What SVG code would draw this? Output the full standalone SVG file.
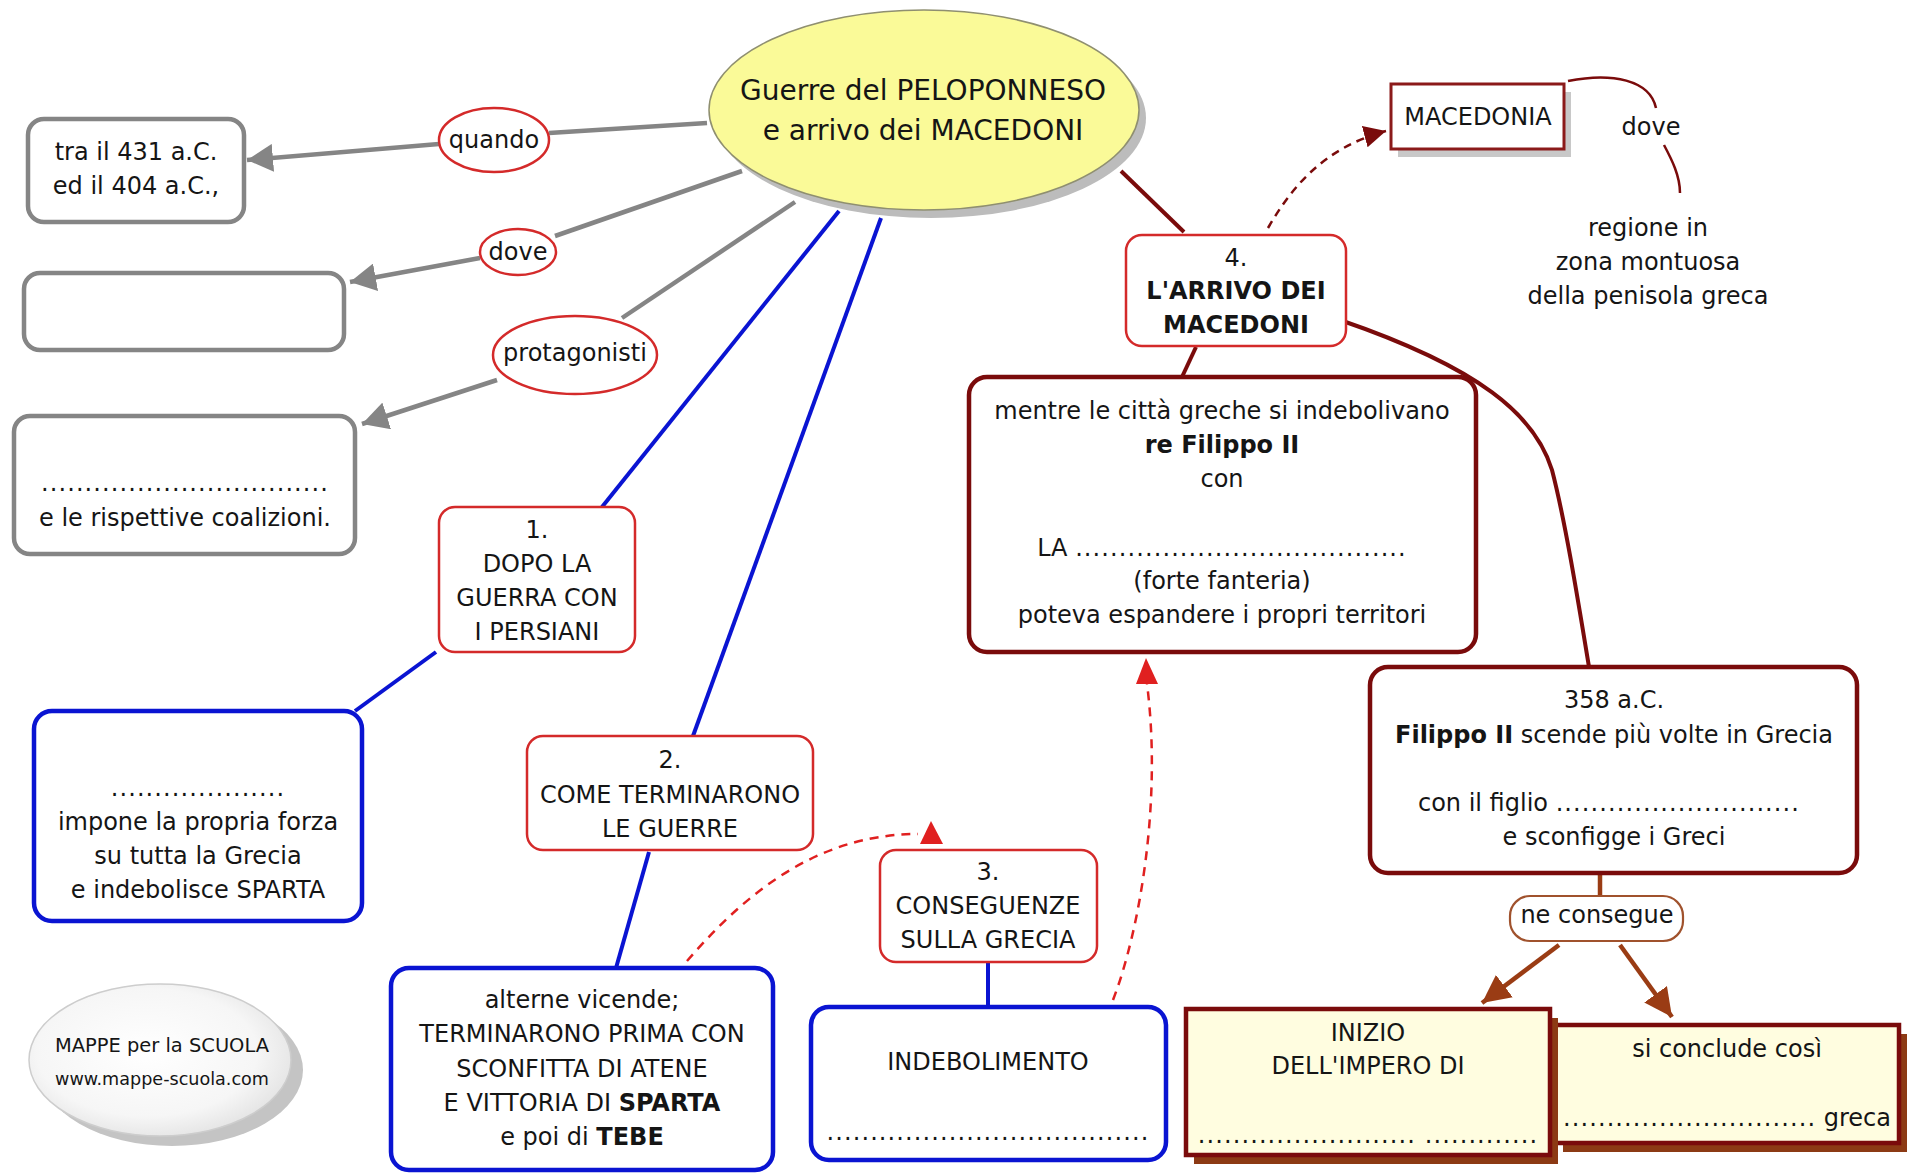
<svg xmlns="http://www.w3.org/2000/svg" width="1917" height="1173" viewBox="0 0 1917 1173">
<style>
text{font-family:"DejaVu Sans",Verdana,sans-serif;font-size:24px;fill:#151515;text-anchor:middle}
.b{font-weight:bold}
.d{letter-spacing:1.1px}
.grey{fill:#fff;stroke:#858585;stroke-width:4.5}
.red{fill:#fff;stroke:#d42a2a;stroke-width:2.5}
.blue{fill:#fff;stroke:#0a14d2;stroke-width:4.5}
.dred{fill:#fff;stroke:#7a0b0b;stroke-width:4.5}
.yel{fill:#fffde0;stroke:#7a0b0b;stroke-width:4.5}
.bsh{fill:#8c3a14}
.gl{stroke:#858585;stroke-width:4.5;fill:none}
.bl{stroke:#0a14d2;stroke-width:4;fill:none}
.rl{stroke:#7a0b0b;stroke-width:4;fill:none}
.br{stroke:#9a3c14;stroke-width:4.5;fill:none}
.dash{stroke:#e02020;stroke-width:2.5;fill:none;stroke-dasharray:9 7}
</style>
<defs>
<marker id="ag" viewBox="0 0 10 10" refX="10" refY="5" markerWidth="26" markerHeight="28" markerUnits="userSpaceOnUse" orient="auto" preserveAspectRatio="none"><path d="M0,0 L10,5 L0,10 z" fill="#858585"/></marker>
<marker id="ab" viewBox="0 0 10 10" refX="10" refY="5" markerWidth="28" markerHeight="28" markerUnits="userSpaceOnUse" orient="auto" preserveAspectRatio="none"><path d="M0,0 L10,5 L0,10 z" fill="#9a3c14"/></marker>
<marker id="ar" viewBox="0 0 10 10" refX="10" refY="5" markerWidth="22" markerHeight="22" markerUnits="userSpaceOnUse" orient="auto" preserveAspectRatio="none"><path d="M0,0 L10,5 L0,10 z" fill="#7a0b0b"/></marker>
<radialGradient id="lg" cx="0.45" cy="0.45" r="0.6"><stop offset="0" stop-color="#ffffff"/><stop offset="0.7" stop-color="#f6f6f6"/><stop offset="1" stop-color="#e2e2e2"/></radialGradient>
</defs>
<rect width="1917" height="1173" fill="#fff"/>

<g id="connectors">
<path class="gl" d="M707,123 L549,133"/>
<path class="gl" d="M439,144 L247,160" marker-end="url(#ag)"/>
<path class="gl" d="M742,171 L555,236"/>
<path class="gl" d="M480,258 L350,282" marker-end="url(#ag)"/>
<path class="gl" d="M795,202 L622,318"/>
<path class="gl" d="M497,380 L362,424" marker-end="url(#ag)"/>
<path class="bl" d="M839,211 L602,507"/>
<path class="bl" d="M881,218 L693,736"/>
<path class="bl" d="M436,652 L355,711"/>
<path class="bl" d="M649,852 L616,968"/>
<path class="bl" d="M988,963 L988,1008"/>
<path class="rl" d="M1121,171 L1184,232"/>
<path class="rl" d="M1196,347 L1182,377"/>
<path class="rl" d="M1340,320 C1480,368 1535,415 1552,470 C1565,520 1578,600 1589,667"/>
<path class="br" d="M1600,873 L1600,896"/>
<path class="br" d="M1559,945 L1482,1003" marker-end="url(#ab)"/>
<path class="br" d="M1620,945 L1672,1017" marker-end="url(#ab)"/>
<path d="M1268,228 C1290,190 1322,148 1386,131" stroke="#7a0b0b" stroke-width="2.5" fill="none" stroke-dasharray="8 6" marker-end="url(#ar)"/>
<path d="M1568,81 C1612,72 1650,80 1656,108" stroke="#7a0b0b" stroke-width="2.5" fill="none"/>
<path d="M1664,145 C1672,160 1680,176 1680,193" stroke="#7a0b0b" stroke-width="2.5" fill="none"/>
<path class="dash" d="M687,961 C740,900 812,834 918,834"/>
<polygon points="920,844 943,844 931,821" fill="#e02020"/>
<path class="dash" d="M1113,1000 C1140,930 1162,800 1147,684"/>
<polygon points="1136,684 1158,684 1146,658" fill="#e02020"/>
</g>

<g id="title">
<ellipse cx="931" cy="118" rx="215" ry="100" fill="#bcbcbc"/>
<ellipse cx="924" cy="110" rx="215" ry="100" fill="#fafa98" stroke="#8f8f70" stroke-width="1.5"/>
<text x="923" y="100" style="font-size:28px">Guerre del PELOPONNESO</text>
<text x="923" y="140" style="font-size:28px">e arrivo dei MACEDONI</text>
</g>

<g id="quando"><ellipse cx="494" cy="140" rx="55" ry="32" class="red"/><text x="494" y="148">quando</text></g>
<g id="dove1"><ellipse cx="518" cy="252" rx="38" ry="23" class="red"/><text x="518" y="260">dove</text></g>
<g id="protagonisti"><ellipse cx="575" cy="355" rx="82" ry="39" class="red"/><text x="575" y="361">protagonisti</text></g>

<g id="date"><rect x="28" y="119" width="216" height="103" rx="16" class="grey"/>
<text x="136" y="160">tra il 431 a.C.</text><text x="136" y="194">ed il 404 a.C.,</text></g>
<g id="luogo"><rect x="24" y="273" width="320" height="77" rx="16" class="grey"/></g>
<g id="coalizioni"><rect x="14" y="416" width="341" height="138" rx="16" class="grey"/>
<text x="185" y="491" class="d">.................................</text><text x="185" y="526">e le rispettive coalizioni.</text></g>

<g id="n1"><rect x="439" y="507" width="196" height="145" rx="16" class="red"/>
<text x="537" y="538">1.</text><text x="537" y="572">DOPO LA</text><text x="537" y="606">GUERRA CON</text><text x="537" y="640">I PERSIANI</text></g>
<g id="n1b"><rect x="34" y="711" width="328" height="210" rx="18" class="blue"/>
<text x="198" y="796" class="d">....................</text><text x="198" y="830">impone la propria forza</text><text x="198" y="864">su tutta la Grecia</text><text x="198" y="898">e indebolisce SPARTA</text></g>

<g id="n2"><rect x="527" y="736" width="286" height="114" rx="16" class="red"/>
<text x="670" y="768">2.</text><text x="670" y="803">COME TERMINARONO</text><text x="670" y="837">LE GUERRE</text></g>
<g id="n2b"><rect x="391" y="968" width="382" height="202" rx="18" class="blue"/>
<text x="582" y="1008">alterne vicende;</text><text x="582" y="1042">TERMINARONO PRIMA CON</text><text x="582" y="1077">SCONFITTA DI ATENE</text><text x="582" y="1111">E VITTORIA DI <tspan class="b">SPARTA</tspan></text><text x="582" y="1145">e poi di <tspan class="b">TEBE</tspan></text></g>

<g id="n3"><rect x="880" y="850" width="217" height="112" rx="16" class="red"/>
<text x="988" y="880">3.</text><text x="988" y="914">CONSEGUENZE</text><text x="988" y="948">SULLA GRECIA</text></g>
<g id="n3b"><rect x="811" y="1007" width="355" height="153" rx="18" class="blue"/>
<text x="988" y="1070">INDEBOLIMENTO</text><text x="988" y="1140" class="d">.....................................</text></g>

<g id="n4"><rect x="1126" y="235" width="220" height="111" rx="16" class="red"/>
<text x="1236" y="266">4.</text><text x="1236" y="299" class="b">L'ARRIVO DEI</text><text x="1236" y="333" class="b">MACEDONI</text></g>

<g id="macedonia"><rect x="1398" y="92" width="173" height="65" fill="#c8c8c8"/>
<rect x="1391" y="84" width="173" height="65" fill="#fff" stroke="#8b1a1a" stroke-width="3"/>
<text x="1478" y="125">MACEDONIA</text></g>
<g id="dove2"><text x="1651" y="135">dove</text></g>
<g id="regione"><text x="1648" y="236">regione in</text><text x="1648" y="270">zona montuosa</text><text x="1648" y="304">della penisola greca</text></g>

<g id="filippo"><rect x="969" y="377" width="507" height="275" rx="18" class="dred"/>
<text x="1222" y="419">mentre le città greche si indebolivano</text><text x="1222" y="453" class="b">re Filippo II</text><text x="1222" y="487">con</text>
<text x="1222" y="556">LA <tspan class="d">......................................</tspan></text><text x="1222" y="589">(forte fanteria)</text><text x="1222" y="623">poteva espandere i propri territori</text></g>

<g id="a358"><rect x="1370" y="667" width="487" height="206" rx="18" class="dred"/>
<text x="1614" y="708">358 a.C.</text><text x="1614" y="743"><tspan class="b">Filippo II</tspan> scende più volte in Grecia</text>
<text x="1609" y="811">con il figlio <tspan class="d">............................</tspan></text><text x="1614" y="845">e sconfigge i Greci</text></g>

<g id="neconsegue"><rect x="1510" y="896" width="173" height="45" rx="20" fill="#fff" stroke="#a0522d" stroke-width="2.2"/><text x="1597" y="923">ne consegue</text></g>

<g id="conclude"><rect x="1563" y="1034" width="344" height="118" class="bsh"/>
<rect x="1555" y="1025" width="344" height="118" class="yel"/>
<text x="1727" y="1057">si conclude così</text><text x="1727" y="1126"><tspan class="d">.............................</tspan> greca</text></g>

<g id="impero"><rect x="1194" y="1018" width="364" height="146" class="bsh"/>
<rect x="1186" y="1009" width="364" height="146" class="yel"/>
<text x="1368" y="1041">INIZIO</text><text x="1368" y="1074">DELL'IMPERO DI</text>
<text x="1368" y="1143" class="d">......................... .............</text></g>

<g id="logo"><ellipse cx="172" cy="1070" rx="131" ry="76" fill="#c4c4c4"/>
<ellipse cx="160" cy="1060" rx="131" ry="76" fill="url(#lg)" stroke="#cdcdcd" stroke-width="1.5"/>
<text x="162" y="1052" style="font-size:19px" textLength="214" lengthAdjust="spacingAndGlyphs">MAPPE per la SCUOLA</text>
<text x="162" y="1085" style="font-size:18px" textLength="214" lengthAdjust="spacingAndGlyphs">www.mappe-scuola.com</text></g>
</svg>
